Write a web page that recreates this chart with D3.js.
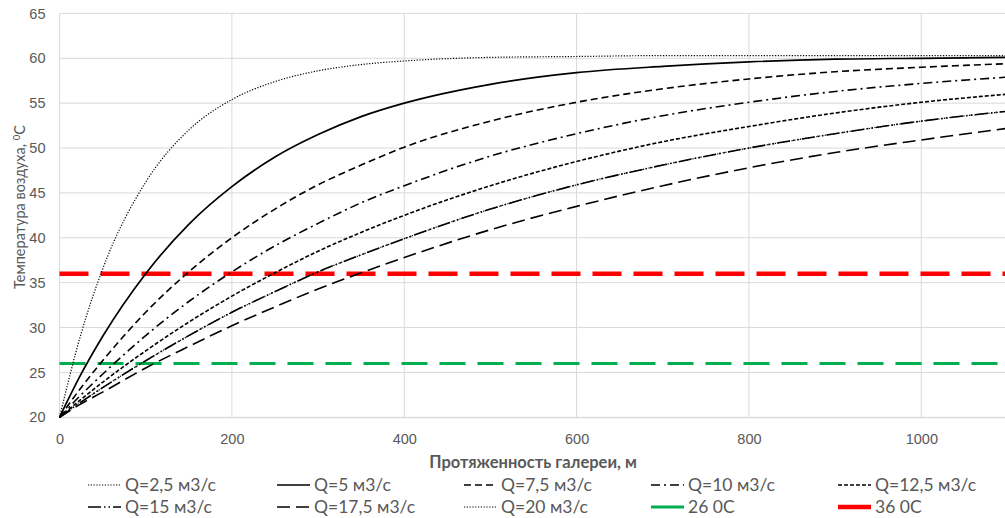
<!DOCTYPE html>
<html><head><meta charset="utf-8">
<script src="https://cdn.jsdelivr.net/npm/d3@7/dist/d3.min.js"></script>
<style>
html,body{margin:0;padding:0;background:#fff;}
svg{display:block;font-family:Lato,"Open Sans",sans-serif;}
</style></head>
<body>
<svg id="chart" width="1005" height="518"></svg>
<script>
// Distance along gallery, m
const distances = [0, 25, 50, 100, 150, 200, 250, 300, 350, 400, 500, 600, 700, 800, 900, 1000, 1100];
// Air temperature, °C, per airflow Q
const q2_5  = [20, 29.3, 36.5, 46.2, 52.0, 55.4, 57.4, 58.6, 59.3, 59.7, 60.1, 60.2, 60.3, 60.3, 60.3, 60.3, 60.3];
const q5    = [20, 24.8, 29.0, 36.0, 41.5, 45.7, 49.0, 51.5, 53.5, 55.0, 57.1, 58.4, 59.1, 59.6, 59.9, 60.0, 60.1];
const q7_5  = [20, 23.3, 26.3, 31.7, 36.2, 40.0, 43.2, 45.9, 48.1, 50.1, 53.0, 55.1, 56.6, 57.7, 58.5, 59.0, 59.4];
const q10   = [20, 22.5, 24.8, 29.1, 32.9, 36.2, 39.1, 41.6, 43.9, 45.8, 49.1, 51.6, 53.6, 55.1, 56.3, 57.2, 57.9];
const q12_5 = [20, 22.0, 23.9, 27.4, 30.6, 33.5, 36.1, 38.5, 40.6, 42.5, 45.8, 48.5, 50.7, 52.4, 53.9, 55.1, 56.0];
const q15   = [20, 21.7, 23.3, 26.3, 29.1, 31.7, 34.0, 36.2, 38.1, 39.9, 43.2, 45.9, 48.1, 50.0, 51.6, 53.0, 54.1];
const q17_5 = [20, 21.5, 22.8, 25.5, 27.9, 30.2, 32.3, 34.3, 36.1, 37.8, 40.9, 43.5, 45.8, 47.8, 49.5, 50.9, 52.2];
const q20   = [20, 21.7, 23.3, 26.3, 29.1, 31.7, 34.0, 36.2, 38.1, 39.9, 43.2, 45.9, 48.1, 50.0, 51.6, 53.0, 54.1];
// Limit temperatures
const limit26 = 26;
const limit36 = 36;
const seriesNames = ["Q=2,5 м3/с", "Q=5 м3/с", "Q=7,5 м3/с", "Q=10 м3/с", "Q=12,5 м3/с", "Q=15 м3/с", "Q=17,5 м3/с", "Q=20 м3/с", "26 0С", "36 0С"];
const xTicks = [0, 200, 400, 600, 800, 1000];
const yTicks = [20, 25, 30, 35, 40, 45, 50, 55, 60, 65];

const curveSeries = [q2_5, q5, q7_5, q10, q12_5, q15, q17_5, q20];
const curveStyles = [
  {dash: "1.2,1.6", w: 1.2},
  {dash: null, w: 1.7},
  {dash: "7,4", w: 1.6},
  {dash: "9,4,2,4", w: 1.6},
  {dash: "4,2", w: 1.6},
  {dash: "13,3,1.5,3,1.5,3", w: 1.6},
  {dash: "13,6", w: 1.6},
  {dash: "1.2,1.6", w: 1.2}
];

const svg = d3.select("#chart");
const x = d3.scaleLinear().domain([0, 1100]).range([59.5, 1007.5]);
const y = d3.scaleLinear().domain([20, 65]).range([417.3, 13.4]);
const gridColor = "#d9d9d9";
const textColor = "#595959";

// gridlines
svg.append("g").selectAll("line.h").data(yTicks).join("line")
  .attr("x1", x(0)).attr("x2", 1005).attr("y1", d => y(d)).attr("y2", d => y(d))
  .attr("stroke", gridColor).attr("stroke-width", 1);
svg.append("g").selectAll("line.v").data(xTicks).join("line")
  .attr("x1", d => x(d)).attr("x2", d => x(d)).attr("y1", y(65)).attr("y2", y(20))
  .attr("stroke", gridColor).attr("stroke-width", 1);

// axes (labels only)
const xAxis = svg.append("g").attr("transform", `translate(0,${y(20)})`)
  .call(d3.axisBottom(x).tickValues(xTicks).tickSize(0).tickPadding(16).tickFormat(d3.format("d")));
xAxis.select(".domain").attr("stroke", gridColor);
xAxis.selectAll("text").attr("fill", textColor).style("font-size", "14.5px");

const yAxis = svg.append("g").attr("transform", `translate(${x(0)},0)`)
  .call(d3.axisLeft(y).tickValues(yTicks).tickSize(0).tickPadding(14));
yAxis.select(".domain").remove();
yAxis.selectAll("text").attr("fill", textColor).style("font-size", "14.5px");

// limit lines
svg.append("line").attr("x1", x(0)).attr("x2", 1005).attr("y1", y(limit26)).attr("y2", y(limit26))
  .attr("stroke", "#00b050").attr("stroke-width", 3).attr("stroke-dasharray", "26,12");
svg.append("line").attr("x1", x(0)).attr("x2", 1005).attr("y1", y(limit36)).attr("y2", y(limit36))
  .attr("stroke", "#ff0000").attr("stroke-width", 4.5).attr("stroke-dasharray", "29,12").attr("stroke-linecap", "butt");

// curves
const line = d3.line().x((d, i) => x(distances[i])).y(d => y(d)).curve(d3.curveMonotoneX);
curveSeries.forEach((s, k) => {
  svg.append("path").datum(s).attr("d", line).attr("fill", "none")
    .attr("stroke", "#000").attr("stroke-width", curveStyles[k].w)
    .attr("stroke-dasharray", curveStyles[k].dash);
});

// axis titles
svg.append("text").attr("x", 533).attr("y", 468).attr("text-anchor", "middle")
  .attr("fill", textColor).style("font-size", "16.5px").style("font-weight", "bold")
  .text("Протяженность галереи, м");
const yt = svg.append("text").attr("transform", "translate(25,207) rotate(-90)")
  .attr("text-anchor", "middle").attr("fill", textColor).style("font-size", "14.5px");
yt.append("tspan").text("Температура воздуха, ");
yt.append("tspan").attr("dy", -5).style("font-size", "9.5px").text("0");
yt.append("tspan").attr("dy", 5).text("С");

// legend
const colX = [88, 277, 464, 651, 838];
const rowY = [485, 507];
const legendItems = seriesNames.map((name, i) => ({name, i}));
legendItems.forEach(({name, i}) => {
  const cx = colX[i % 5], cy = rowY[Math.floor(i / 5)];
  const ln = svg.append("line").attr("x1", cx).attr("x2", cx + 33).attr("y1", cy).attr("y2", cy);
  if (i < 8) {
    ln.attr("stroke", "#000").attr("stroke-width", curveStyles[i].w).attr("stroke-dasharray", curveStyles[i].dash);
  } else {
    ln.attr("stroke", i === 8 ? "#00b050" : "#ff0000").attr("stroke-width", i === 8 ? 3 : 4.5);
  }
  svg.append("text").attr("x", cx + 37).attr("y", cy).attr("dy", "0.35em")
    .attr("fill", textColor).style("font-size", "17.5px").text(name);
});
</script>
</body></html>
